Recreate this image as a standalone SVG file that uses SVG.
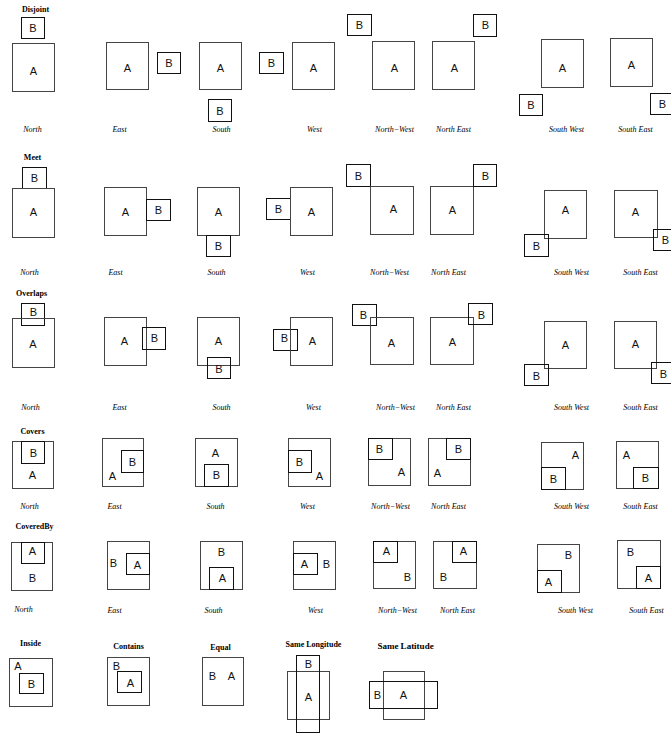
<svg xmlns="http://www.w3.org/2000/svg" width="671" height="734" viewBox="0 0 671 734">
<style>
.a{fill:none;stroke:#444;stroke-width:1}
.b{fill:none;stroke:#111;stroke-width:1}
.t{font-family:"Liberation Sans",Arial,sans-serif;font-size:11px;fill:#111;text-anchor:middle}
.l{font-family:"Liberation Serif","Times New Roman",serif;font-style:italic;font-size:8px;fill:#000;text-anchor:middle}
.h{font-family:"Liberation Serif","Times New Roman",serif;font-weight:bold;font-size:8px;fill:#000;text-anchor:middle}
</style>
<rect width="671" height="734" fill="#fff"/>
<g transform="translate(0.5,0.5)">
<g id="titles">
<text class="h" x="35" y="11">Disjoint</text>
<text class="h" x="32" y="159">Meet</text>
<text class="h" x="31" y="295">Overlaps</text>
<text class="h" x="32" y="433">Covers</text>
<text class="h" x="34" y="528">CoveredBy</text>
<text class="h" x="30" y="645">Inside</text>
<text class="h" x="128" y="648">Contains</text>
<text class="h" x="220" y="649">Equal</text>
<text class="h" x="313" y="646">Same Longitude</text>
<text class="h" x="405" y="648" style="font-size:9px">Same Latitude</text>
</g>
<g id="labels">
<text class="l" x="32" y="131">North</text><text class="l" x="119" y="131">East</text><text class="l" x="221" y="131">South</text><text class="l" x="314" y="131">West</text>
<text class="l" x="394" y="131">North−West</text><text class="l" x="453" y="131">North East</text><text class="l" x="566" y="131">South West</text><text class="l" x="635" y="131">South East</text>
<text class="l" x="29" y="274">North</text><text class="l" x="115" y="274">East</text><text class="l" x="216" y="274">South</text><text class="l" x="307" y="274">West</text>
<text class="l" x="389" y="274">North−West</text><text class="l" x="448" y="274">North East</text><text class="l" x="571" y="274">South West</text><text class="l" x="640" y="274">South East</text>
<text class="l" x="30" y="409">North</text><text class="l" x="119" y="409">East</text><text class="l" x="221" y="409">South</text><text class="l" x="313" y="409">West</text>
<text class="l" x="395" y="409">North−West</text><text class="l" x="453" y="409">North East</text><text class="l" x="571" y="409">South West</text><text class="l" x="640" y="409">South East</text>
<text class="l" x="29" y="508">North</text><text class="l" x="114" y="508">East</text><text class="l" x="215" y="508">South</text><text class="l" x="307" y="508">West</text>
<text class="l" x="390" y="508">North−West</text><text class="l" x="448" y="508">North East</text><text class="l" x="571" y="508">South West</text><text class="l" x="640" y="508">South East</text>
<text class="l" x="23" y="611">North</text><text class="l" x="114" y="612">East</text><text class="l" x="213" y="612">South</text><text class="l" x="315" y="612">West</text>
<text class="l" x="397" y="612">North−West</text><text class="l" x="457" y="612">North East</text><text class="l" x="575" y="612">South West</text><text class="l" x="646" y="612">South East</text>
</g>
<!-- Row 1: Disjoint -->
<g id="disjoint-north"><rect class="b" x="21" y="17" width="23" height="21"/><text class="t" x="32.5" y="31.5">B</text><rect class="a" x="12" y="43" width="42" height="48"/><text class="t" x="33" y="74">A</text></g>
<g id="disjoint-east"><rect class="a" x="106" y="42" width="42" height="47"/><text class="t" x="127" y="71.5">A</text><rect class="b" x="157" y="52" width="23" height="21"/><text class="t" x="168.5" y="66">B</text></g>
<g id="disjoint-south"><rect class="a" x="199" y="42" width="42" height="47"/><text class="t" x="220" y="71.5">A</text><rect class="b" x="208" y="99" width="23" height="22"/><text class="t" x="219.5" y="114.5">B</text></g>
<g id="disjoint-west"><rect class="b" x="259" y="52" width="24" height="21"/><text class="t" x="271" y="66">B</text><rect class="a" x="292" y="42" width="42" height="47"/><text class="t" x="313" y="71.5">A</text></g>
<g id="disjoint-northwest"><rect class="b" x="347" y="14" width="24" height="21"/><text class="t" x="359" y="28">B</text><rect class="a" x="372" y="41" width="42" height="48"/><text class="t" x="394" y="71.5">A</text></g>
<g id="disjoint-northeast"><rect class="a" x="432" y="41" width="42" height="48"/><text class="t" x="454" y="71.5">A</text><rect class="b" x="473" y="14" width="23" height="22"/><text class="t" x="485" y="28.5">B</text></g>
<g id="disjoint-southwest"><rect class="a" x="541" y="39" width="42" height="48"/><text class="t" x="562" y="71">A</text><rect class="b" x="519" y="94" width="23" height="21"/><text class="t" x="530.5" y="108">B</text></g>
<g id="disjoint-southeast"><rect class="a" x="610" y="38" width="42" height="48"/><text class="t" x="631" y="68">A</text><rect class="b" x="650" y="93" width="24" height="21"/><text class="t" x="662" y="107.5">B</text></g>
<!-- Row 2: Meet -->
<g id="meet-north"><rect class="b" x="22" y="167" width="24" height="21"/><text class="t" x="34" y="181.5">B</text><rect class="a" x="12" y="188" width="42" height="49"/><text class="t" x="33" y="215">A</text></g>
<g id="meet-east"><rect class="a" x="104" y="187" width="42" height="48"/><text class="t" x="125" y="215">A</text><rect class="b" x="146" y="199" width="24" height="21"/><text class="t" x="158" y="213">B</text></g>
<g id="meet-south"><rect class="a" x="197" y="187" width="42" height="48"/><text class="t" x="218" y="215">A</text><rect class="b" x="206" y="235" width="24" height="21"/><text class="t" x="218" y="249.5">B</text></g>
<g id="meet-west"><rect class="b" x="266" y="198" width="24" height="21"/><text class="t" x="278" y="212.5">B</text><rect class="a" x="290" y="187" width="42" height="48"/><text class="t" x="311" y="215">A</text></g>
<g id="meet-northwest"><rect class="b" x="346" y="164" width="24" height="22"/><text class="t" x="358" y="179">B</text><rect class="a" x="370" y="186" width="43" height="48"/><text class="t" x="393" y="212.5">A</text></g>
<g id="meet-northeast"><rect class="a" x="430" y="186" width="43" height="48"/><text class="t" x="452" y="213">A</text><rect class="b" x="473" y="164" width="23" height="22"/><text class="t" x="485" y="179">B</text></g>
<g id="meet-southwest"><rect class="a" x="544" y="190" width="42" height="48"/><text class="t" x="565" y="213">A</text><rect class="b" x="524" y="234" width="24" height="22"/><text class="t" x="536" y="249">B</text></g>
<g id="meet-southeast"><rect class="a" x="614" y="190" width="43" height="47"/><text class="t" x="635" y="215">A</text><rect class="b" x="653" y="229" width="24" height="21"/><text class="t" x="665" y="243.5">B</text></g>
<!-- Row 3: Overlaps -->
<g id="overlaps-north"><rect class="b" x="21" y="303" width="23" height="22"/><text class="t" x="33" y="315">B</text><rect class="a" x="12" y="318" width="42" height="49"/><text class="t" x="32.5" y="347">A</text></g>
<g id="overlaps-east"><rect class="a" x="104" y="317" width="42" height="48"/><text class="t" x="124" y="344">A</text><rect class="b" x="142" y="327" width="23" height="22"/><text class="t" x="154" y="341.5">B</text></g>
<g id="overlaps-south"><rect class="a" x="197" y="317" width="42" height="48"/><text class="t" x="218" y="344">A</text><rect class="b" x="207" y="357" width="23" height="21"/><text class="t" x="218.5" y="372.5">B</text></g>
<g id="overlaps-west"><rect class="b" x="273" y="329" width="24" height="21"/><text class="t" x="284" y="341.5">B</text><rect class="a" x="290" y="317" width="42" height="48"/><text class="t" x="312" y="344">A</text></g>
<g id="overlaps-northwest"><rect class="b" x="352" y="304" width="24" height="21"/><text class="t" x="363" y="318">B</text><rect class="a" x="370" y="317" width="43" height="47"/><text class="t" x="391" y="346">A</text></g>
<g id="overlaps-northeast"><rect class="a" x="430" y="317" width="43" height="47"/><text class="t" x="452" y="345">A</text><rect class="b" x="468" y="303" width="24" height="21"/><text class="t" x="481" y="318">B</text></g>
<g id="overlaps-southwest"><rect class="a" x="544" y="321" width="42" height="47"/><text class="t" x="565" y="348">A</text><rect class="b" x="524" y="364" width="24" height="21"/><text class="t" x="536" y="379">B</text></g>
<g id="overlaps-southeast"><rect class="a" x="614" y="321" width="42" height="47"/><text class="t" x="635" y="347">A</text><rect class="b" x="651" y="362" width="24" height="21"/><text class="t" x="663" y="377">B</text></g>
<!-- Row 4: Covers -->
<g id="covers-north"><rect class="a" x="12" y="441" width="41" height="47"/><rect class="b" x="21" y="441" width="23" height="22"/><text class="t" x="33" y="456">B</text><text class="t" x="32" y="478">A</text></g>
<g id="covers-east"><rect class="a" x="102" y="438" width="41" height="48"/><rect class="b" x="121" y="450" width="22" height="22"/><text class="t" x="132" y="465">B</text><text class="t" x="112" y="479">A</text></g>
<g id="covers-south"><rect class="a" x="195" y="438" width="42" height="48"/><rect class="b" x="204" y="464" width="24" height="22"/><text class="t" x="215" y="456">A</text><text class="t" x="216" y="478">B</text></g>
<g id="covers-west"><rect class="a" x="288" y="438" width="42" height="48"/><rect class="b" x="288" y="450" width="23" height="22"/><text class="t" x="299" y="465">B</text><text class="t" x="319" y="479">A</text></g>
<g id="covers-northwest"><rect class="a" x="368" y="438" width="42" height="47"/><rect class="b" x="368" y="438" width="24" height="21"/><text class="t" x="379" y="452">B</text><text class="t" x="401" y="475">A</text></g>
<g id="covers-northeast"><rect class="a" x="428" y="438" width="42" height="47"/><rect class="b" x="446" y="438" width="24" height="21"/><text class="t" x="458" y="452">B</text><text class="t" x="437" y="476">A</text></g>
<g id="covers-southwest"><rect class="a" x="541" y="442" width="42" height="47"/><rect class="b" x="541" y="467" width="24" height="22"/><text class="t" x="575" y="458">A</text><text class="t" x="553" y="482">B</text></g>
<g id="covers-southeast"><rect class="a" x="616" y="441" width="42" height="47"/><rect class="b" x="633" y="467" width="25" height="21"/><text class="t" x="626" y="458">A</text><text class="t" x="645" y="481">B</text></g>
<!-- Row 5: CoveredBy -->
<g id="coveredby-north"><rect class="a" x="11" y="542" width="41" height="48"/><rect class="b" x="21" y="542" width="23" height="21"/><text class="t" x="32" y="554">A</text><text class="t" x="32" y="581">B</text></g>
<g id="coveredby-east"><rect class="a" x="107" y="541" width="42" height="48"/><rect class="b" x="126" y="553" width="23" height="21"/><text class="t" x="113" y="566">B</text><text class="t" x="137" y="568">A</text></g>
<g id="coveredby-south"><rect class="a" x="200" y="541" width="42" height="48"/><rect class="b" x="209" y="567" width="24" height="22"/><text class="t" x="221" y="555">B</text><text class="t" x="222" y="581">A</text></g>
<g id="coveredby-west"><rect class="a" x="293" y="541" width="42" height="48"/><rect class="b" x="293" y="553" width="24" height="21"/><text class="t" x="304" y="567">A</text><text class="t" x="326" y="567">B</text></g>
<g id="coveredby-northwest"><rect class="a" x="373" y="541" width="42" height="47"/><rect class="b" x="373" y="541" width="24" height="21"/><text class="t" x="386" y="554">A</text><text class="t" x="407" y="580">B</text></g>
<g id="coveredby-northeast"><rect class="a" x="433" y="541" width="43" height="47"/><rect class="b" x="452" y="541" width="24" height="21"/><text class="t" x="463" y="554">A</text><text class="t" x="443" y="580">B</text></g>
<g id="coveredby-southwest"><rect class="a" x="537" y="544" width="42" height="48"/><rect class="b" x="537" y="570" width="24" height="22"/><text class="t" x="568" y="558">B</text><text class="t" x="548" y="585">A</text></g>
<g id="coveredby-southeast"><rect class="a" x="617" y="540" width="43" height="48"/><rect class="b" x="636" y="566" width="24" height="22"/><text class="t" x="630" y="555">B</text><text class="t" x="648" y="581">A</text></g>
<!-- Row 6 -->
<g id="inside"><rect class="a" x="9" y="658" width="43" height="48"/><rect class="b" x="19" y="673" width="24" height="20"/><text class="t" x="17.5" y="669">A</text><text class="t" x="31" y="687">B</text></g>
<g id="contains"><rect class="a" x="107" y="657" width="42" height="48"/><rect class="b" x="117" y="671" width="24" height="21"/><text class="t" x="116" y="669">B</text><text class="t" x="130" y="686">A</text></g>
<g id="equal"><rect class="a" x="202" y="657" width="41" height="48"/><text class="t" x="212" y="679">B</text><text class="t" x="231" y="679">A</text></g>
<g id="same-longitude"><rect class="a" x="287" y="671" width="42" height="48"/><rect class="b" x="296" y="655" width="23" height="77"/><text class="t" x="308" y="667">B</text><text class="t" x="308" y="700">A</text></g>
<g id="same-latitude"><rect class="a" x="383" y="671" width="41" height="48"/><rect class="b" x="369" y="681" width="68" height="27"/><text class="t" x="377" y="698">B</text><text class="t" x="403" y="698">A</text></g>
<g id="connectors"/>
</g>
</svg>
